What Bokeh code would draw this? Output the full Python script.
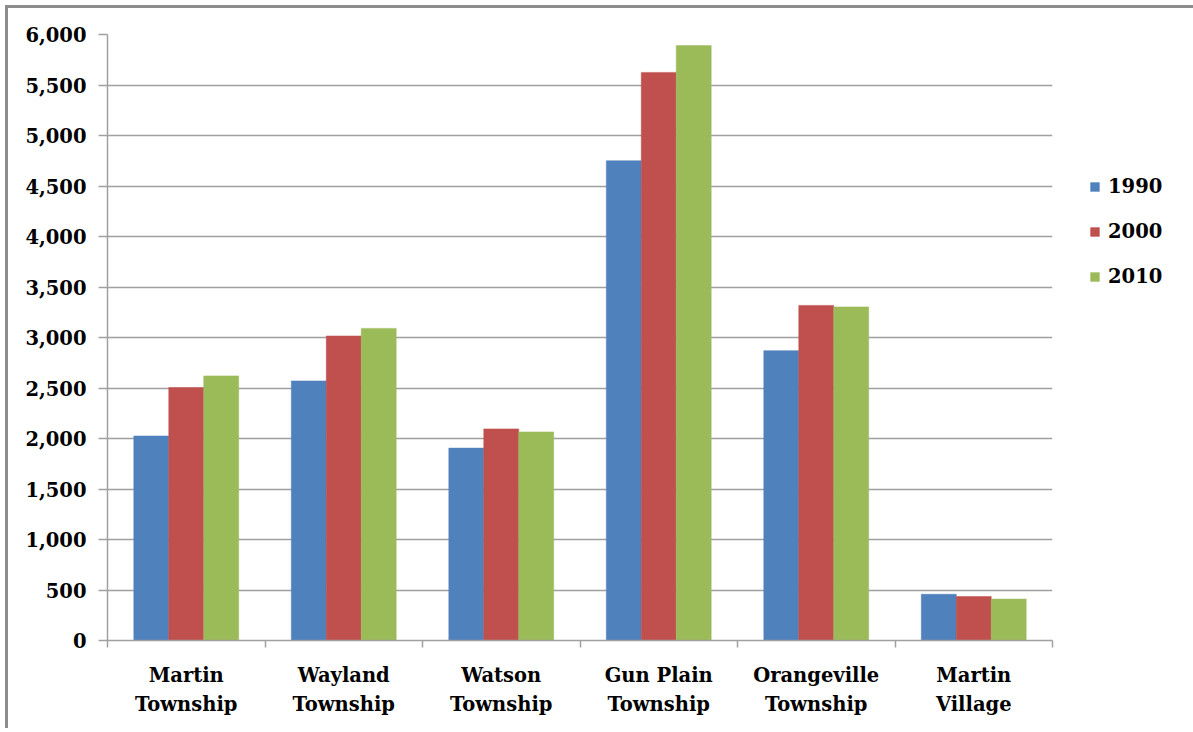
from bokeh.plotting import figure
from bokeh.models import (Range1d, FixedTicker, NumeralTickFormatter, Legend, LegendItem,
                          ColumnDataSource)
from bokeh.embed import file_html
from bokeh.resources import INLINE

categories = ["Martin\nTownship", "Wayland\nTownship", "Watson\nTownship",
              "Gun Plain\nTownship", "Orangeville\nTownship", "Martin\nVillage"]
years = ["1990", "2000", "2010"]
pop_1990 = [2025, 2570, 1905, 4750, 2870, 458]
pop_2000 = [2505, 3015, 2095, 5625, 3318, 436]
pop_2010 = [2620, 3090, 2065, 5890, 3303, 410]
colors = ["#4F81BD", "#C0504D", "#9BBB59"]
y_ticks = list(range(0, 6001, 500))

FONT = "DejaVu Serif"
GRID = "#a0a0a0"

p = figure(frame_width=945, frame_height=606, output_backend="svg", toolbar_location=None,
           x_range=Range1d(0, len(categories)), y_range=Range1d(0, 6000),
           min_border_left=99, min_border_right=136, min_border_top=26,
           min_border_bottom=88)
p.outline_line_color = None
p.background_fill_color = "white"
p.border_fill_color = "white"
p.styles = {"margin-left": "5px", "margin-top": "5px",
            "border-top": "3px solid #8c8c8c", "border-left": "3px solid #8c8c8c",
            "border-right": "2px solid #a8a8a8"}

bar_w = 0.222
series = [pop_1990, pop_2000, pop_2010]
renderers = []
for k, (vals, col) in enumerate(zip(series, colors)):
    xs = [i + 0.5 + (k - 1) * bar_w for i in range(len(categories))]
    src = ColumnDataSource(dict(x=xs, top=vals))
    r = p.vbar(x="x", top="top", width=bar_w, bottom=0, source=src,
               fill_color=col, line_color=col, line_alpha=0.5, line_width=1)
    renderers.append(r)

# y axis
p.yaxis.ticker = FixedTicker(ticks=y_ticks)
p.yaxis.formatter = NumeralTickFormatter(format="0,0")
p.yaxis.axis_line_color = GRID
p.yaxis.axis_line_width = 1.5
p.yaxis.major_tick_line_color = GRID
p.yaxis.major_tick_line_width = 1.5
p.yaxis.major_tick_out = 9
p.yaxis.major_tick_in = 0
p.yaxis.minor_tick_line_color = None
p.yaxis.major_label_standoff = 12
p.yaxis.major_label_text_font = FONT
p.yaxis.major_label_text_font_style = "bold"
p.yaxis.major_label_text_font_size = "19.5px"
p.yaxis.major_label_text_color = "black"

# x axis: labels at centers, ticks at boundaries (minor)
centers = [i + 0.5 for i in range(len(categories))]
bounds = list(range(len(categories) + 1))
p.xaxis.ticker = FixedTicker(ticks=centers, minor_ticks=bounds)
p.xaxis.major_label_overrides = {c: lab for c, lab in zip(centers, categories)}
p.xaxis.major_tick_out = 0
p.xaxis.major_tick_in = 0
p.xaxis.minor_tick_out = 7
p.xaxis.minor_tick_in = 0
p.xaxis.minor_tick_line_color = GRID
p.xaxis.minor_tick_line_width = 1.5
p.xaxis.axis_line_color = GRID
p.xaxis.axis_line_width = 1.5
p.xaxis.major_label_standoff = 16
p.xaxis.major_label_text_font = FONT
p.xaxis.major_label_text_font_style = "bold"
p.xaxis.major_label_text_font_size = "19.5px"
p.xaxis.major_label_text_color = "black"
p.xaxis.major_label_text_line_height = 1.3

p.xgrid.grid_line_color = None
p.ygrid.grid_line_color = GRID
p.ygrid.grid_line_width = 1.5

legend = Legend(items=[LegendItem(label=y, renderers=[r]) for y, r in zip(years, renderers)],
                location=(37, 352), orientation="vertical")
legend.glyph_width = 11
legend.glyph_height = 11
legend.label_height = 24
legend.spacing = 21
legend.padding = 0
legend.margin = 0
legend.label_standoff = 8
legend.border_line_color = None
legend.background_fill_alpha = 0
legend.label_text_font = FONT
legend.label_text_font_style = "bold"
legend.label_text_font_size = "19.5px"
legend.label_text_color = "black"
p.add_layout(legend, "right")

open("out.html", "w").write(file_html(p, INLINE))
